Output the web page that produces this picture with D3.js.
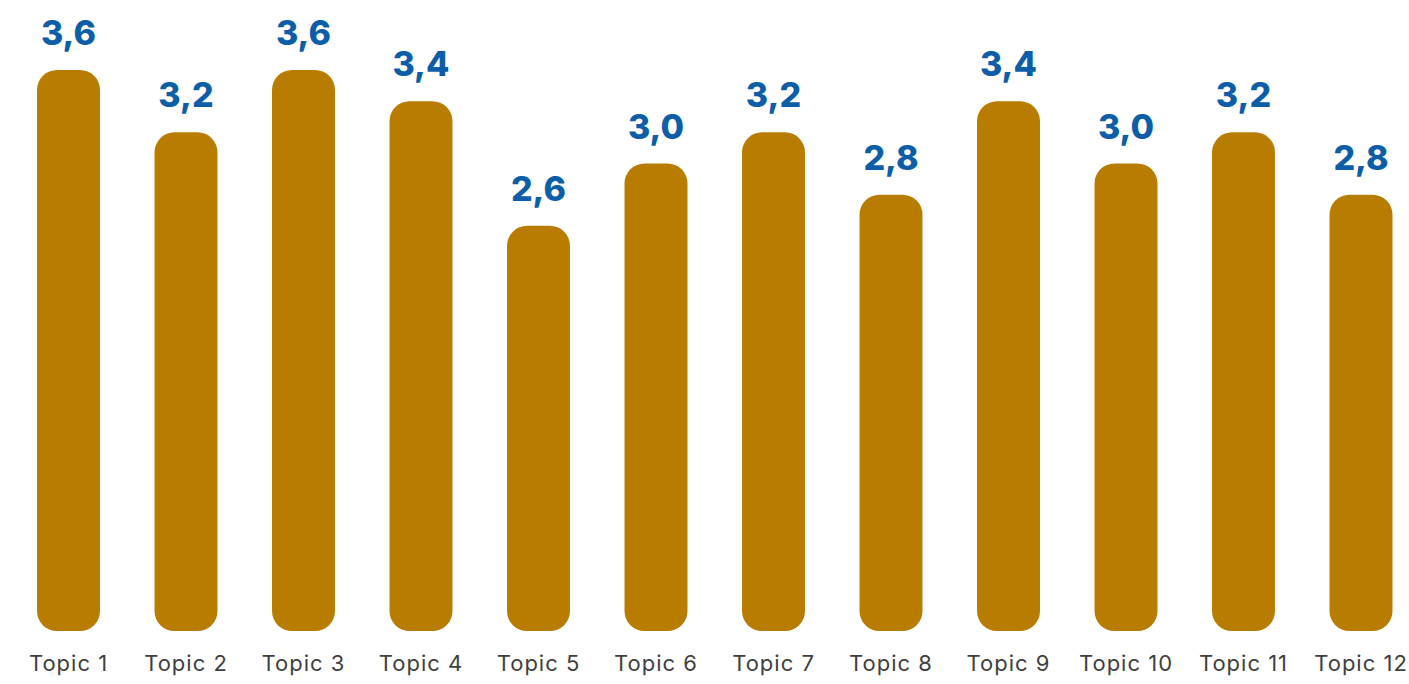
<!DOCTYPE html>
<html>
<head>
<meta charset="utf-8">
<script src="https://cdn.jsdelivr.net/npm/d3@7"></script>
<style>
  html, body { margin: 0; padding: 0; background: #ffffff; }
  svg { display: block; }
</style>
</head>
<body>
<svg id="chart" width="1409" height="684"></svg>
<script>
// Average score per topic
const topics = ["Topic 1", "Topic 2", "Topic 3", "Topic 4", "Topic 5", "Topic 6",
                "Topic 7", "Topic 8", "Topic 9", "Topic 10", "Topic 11", "Topic 12"];
const scores = [3.6, 3.2, 3.6, 3.4, 2.6, 3.0, 3.2, 2.8, 3.4, 3.0, 3.2, 2.8];

const width = 1409, height = 684;
const barColor = "#b87c00";
const valueColor = "#0c5ea8";
const labelColor = "#3f3f3f";

const svg = d3.select("#chart");

const x = d3.scaleBand()
  .domain(topics)
  .range([9.75, 1419.75])
  .paddingInner(0.464)
  .paddingOuter(0.232);

const y = d3.scaleLinear()
  .domain([0, 3.6])
  .range([631, 70]);

const fmt = v => d3.format(".1f")(v).replace(".", ",");

const data = topics.map((t, i) => ({ topic: t, value: scores[i] }));

// Bars: rounded columns
svg.append("g")
  .selectAll("rect")
  .data(data)
  .join("rect")
  .attr("x", d => x(d.topic))
  .attr("y", d => y(d.value))
  .attr("width", x.bandwidth())
  .attr("height", d => y(0) - y(d.value))
  .attr("rx", 20)
  .attr("ry", 20)
  .attr("fill", barColor);

// Value labels above each bar
svg.append("g")
  .selectAll("text")
  .data(data)
  .join("text")
  .attr("x", d => x(d.topic) + x.bandwidth() / 2)
  .attr("y", d => y(d.value) - 25)
  .attr("text-anchor", "middle")
  .attr("font-family", "Inter, 'Open Sans', sans-serif")
  .attr("font-weight", 800)
  .attr("font-size", 34)
  .attr("fill", valueColor)
  .text(d => fmt(d.value));

// Category axis (labels only)
const axis = svg.append("g")
  .attr("transform", `translate(0, ${y(0)})`)
  .call(d3.axisBottom(x).tickSize(0).tickPadding(24));
axis.select(".domain").remove();
axis.selectAll("text")
  .attr("font-family", "Inter, 'Open Sans', sans-serif")
  .attr("font-size", 22)
  .attr("font-weight", 400)
  .attr("letter-spacing", 1)
  .attr("fill", labelColor);
</script>
</body>
</html>
